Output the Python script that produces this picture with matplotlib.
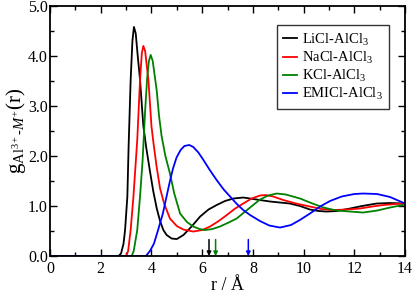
import matplotlib
matplotlib.use("Agg")
import matplotlib.pyplot as plt
from matplotlib.ticker import MultipleLocator, FormatStrFormatter

plt.rcParams['font.family'] = ['Liberation Serif', 'DejaVu Serif']
plt.rcParams['mathtext.fontset'] = 'custom'
plt.rcParams['mathtext.rm'] = 'Liberation Serif'
plt.rcParams['mathtext.it'] = 'Liberation Serif:italic'
plt.rcParams['mathtext.bf'] = 'Liberation Serif:bold'

series_names = ['LiCl-AlCl$_3$', 'NaCl-AlCl$_3$', 'KCl-AlCl$_3$', 'EMICl-AlCl$_3$']
series_colors = ['black', 'red', 'green', 'blue']

r_li = [0, 2.70, 2.80, 2.90, 2.96, 3.05, 3.10, 3.18, 3.25, 3.31, 3.38, 3.45, 3.55, 3.68, 3.80, 3.94,
        4.07, 4.21, 4.34, 4.47, 4.60, 4.80, 5.00, 5.26, 5.60, 5.92, 6.25, 6.57, 6.90, 7.23, 7.62,
        7.89, 8.28, 8.68, 9.07, 9.46, 9.86, 10.25, 10.60, 10.91, 11.30, 11.83, 12.30, 12.88, 13.40, 14.0]
g_li = [0, 0, 0.05, 0.25, 0.52, 1.19, 2.2, 3.52, 4.30, 4.58, 4.45, 4.05, 3.52, 2.60, 2.15, 1.70,
        1.30, 0.95, 0.70, 0.52, 0.42, 0.35, 0.34, 0.42, 0.60, 0.79, 0.93, 1.02, 1.10, 1.15, 1.17,
        1.15, 1.12, 1.09, 1.07, 1.05, 1.00, 0.93, 0.90, 0.89, 0.90, 0.95, 1.00, 1.05, 1.06, 1.05]

r_na = [0, 3.00, 3.08, 3.18, 3.29, 3.44, 3.55, 3.62, 3.68, 3.75, 3.88, 4.00, 4.07, 4.20, 4.34, 4.50,
        4.73, 5.00, 5.26, 5.65, 6.00, 6.31, 6.65, 6.97, 7.30, 7.62, 7.95, 8.28, 8.50, 8.80, 9.20,
        9.70, 10.25, 10.70, 11.17, 11.70, 12.22, 12.70, 13.14, 13.60, 14.0]
g_na = [0, 0, 0.10, 0.52, 1.19, 2.32, 3.52, 4.05, 4.20, 4.10, 3.52, 2.60, 2.30, 1.80, 1.35, 1.05,
        0.75, 0.60, 0.53, 0.49, 0.52, 0.59, 0.70, 0.82, 0.95, 1.05, 1.15, 1.21, 1.22, 1.19, 1.12,
        1.05, 0.99, 0.94, 0.92, 0.93, 0.95, 0.99, 1.02, 1.04, 1.05]

r_k = [0, 3.22, 3.30, 3.44, 3.55, 3.65, 3.75, 3.83, 3.90, 3.97, 4.05, 4.13, 4.21, 4.30, 4.40, 4.55,
       4.73, 4.90, 5.13, 5.40, 5.65, 5.90, 6.11, 6.40, 6.70, 7.00, 7.36, 7.60, 7.89, 8.28, 8.60,
       8.94, 9.30, 9.86, 10.30, 10.78, 11.30, 11.83, 12.35, 12.90, 13.41, 14.0]
g_k = [0, 0, 0.10, 0.52, 1.19, 1.90, 2.90, 3.55, 3.90, 4.02, 3.90, 3.60, 3.30, 2.80, 2.40, 2.00,
       1.65, 1.25, 0.85, 0.68, 0.59, 0.54, 0.52, 0.54, 0.59, 0.66, 0.75, 0.85, 0.97, 1.13, 1.21,
       1.25, 1.23, 1.15, 1.06, 0.97, 0.91, 0.89, 0.87, 0.91, 0.97, 1.03]

r_emi = [0, 3.78, 3.94, 4.10, 4.25, 4.45, 4.60, 4.73, 4.85, 4.99, 5.15, 5.30, 5.49, 5.65, 5.85, 6.05,
         6.30, 6.57, 6.85, 7.10, 7.35, 7.62, 7.89, 8.28, 8.65, 9.07, 9.50, 9.85, 10.25, 10.65, 11.04,
         11.50, 12.00, 12.35, 12.90, 13.41, 14.0]
g_emi = [0, 0, 0.10, 0.25, 0.50, 0.85, 1.20, 1.50, 1.75, 1.97, 2.12, 2.20, 2.22, 2.18, 2.07, 1.92,
         1.72, 1.52, 1.33, 1.19, 1.05, 0.92, 0.82, 0.70, 0.61, 0.57, 0.62, 0.72, 0.85, 0.99, 1.10,
         1.19, 1.24, 1.25, 1.24, 1.18, 1.05]

arrow_r = [6.27, 6.53, 7.82]
arrow_colors = ['black', 'green', 'blue']
arrow_top = 0.33

x_ticks = [0, 2, 4, 6, 8, 10, 12, 14]
y_ticks = [0.0, 1.0, 2.0, 3.0, 4.0, 5.0]

fig = plt.figure(figsize=(4.15, 2.95), dpi=100)
ax = fig.add_axes([0.1205, 0.132, 0.8555, 0.848])

rs = [r_li, r_na, r_k, r_emi]
gs = [g_li, g_na, g_k, g_emi]
for r, g, c, n in zip(rs, gs, series_colors, series_names):
    ax.plot(r, g, color=c, lw=1.3, label=n)

for ra, ca in zip(arrow_r, arrow_colors):
    ax.annotate('', xy=(ra, 0.0), xytext=(ra, arrow_top),
                arrowprops=dict(arrowstyle='-|>', color=ca, lw=1.1,
                                mutation_scale=6, shrinkA=0, shrinkB=0))

ax.set_xlim(0, 14)
ax.set_ylim(0, 5)
ax.set_xticks(x_ticks)
ax.set_yticks(y_ticks)
ax.xaxis.set_minor_locator(MultipleLocator(1))
ax.yaxis.set_minor_locator(MultipleLocator(0.5))
ax.yaxis.set_major_formatter(FormatStrFormatter('%.1f'))
ax.tick_params(which='both', direction='in', top=True, right=True, labelsize=11.5, width=1.0)
ax.tick_params(which='major', length=5)
ax.tick_params(which='minor', length=3)
ax.tick_params(axis='x', which='major', pad=3.5)
ax.tick_params(axis='y', which='major', pad=1.5)
for s in ax.spines.values():
    s.set_linewidth(1.3)

ax.set_xlabel('r / Å', fontsize=13, labelpad=0)
ax.set_ylabel(r'g$_{\mathrm{Al}^{3+}\text{-}M^{+}}$(r)', fontsize=15, labelpad=0)

leg = ax.legend(loc='upper right', bbox_to_anchor=(0.955, 0.924), borderaxespad=0,
                fontsize=10.5, frameon=True, fancybox=False, handlelength=0.9,
                handletextpad=0.35, labelspacing=0.15, borderpad=0.45)
leg.get_frame().set_edgecolor('black')
leg.get_frame().set_linewidth(1.0)

fig.savefig('out.png', dpi=100)
